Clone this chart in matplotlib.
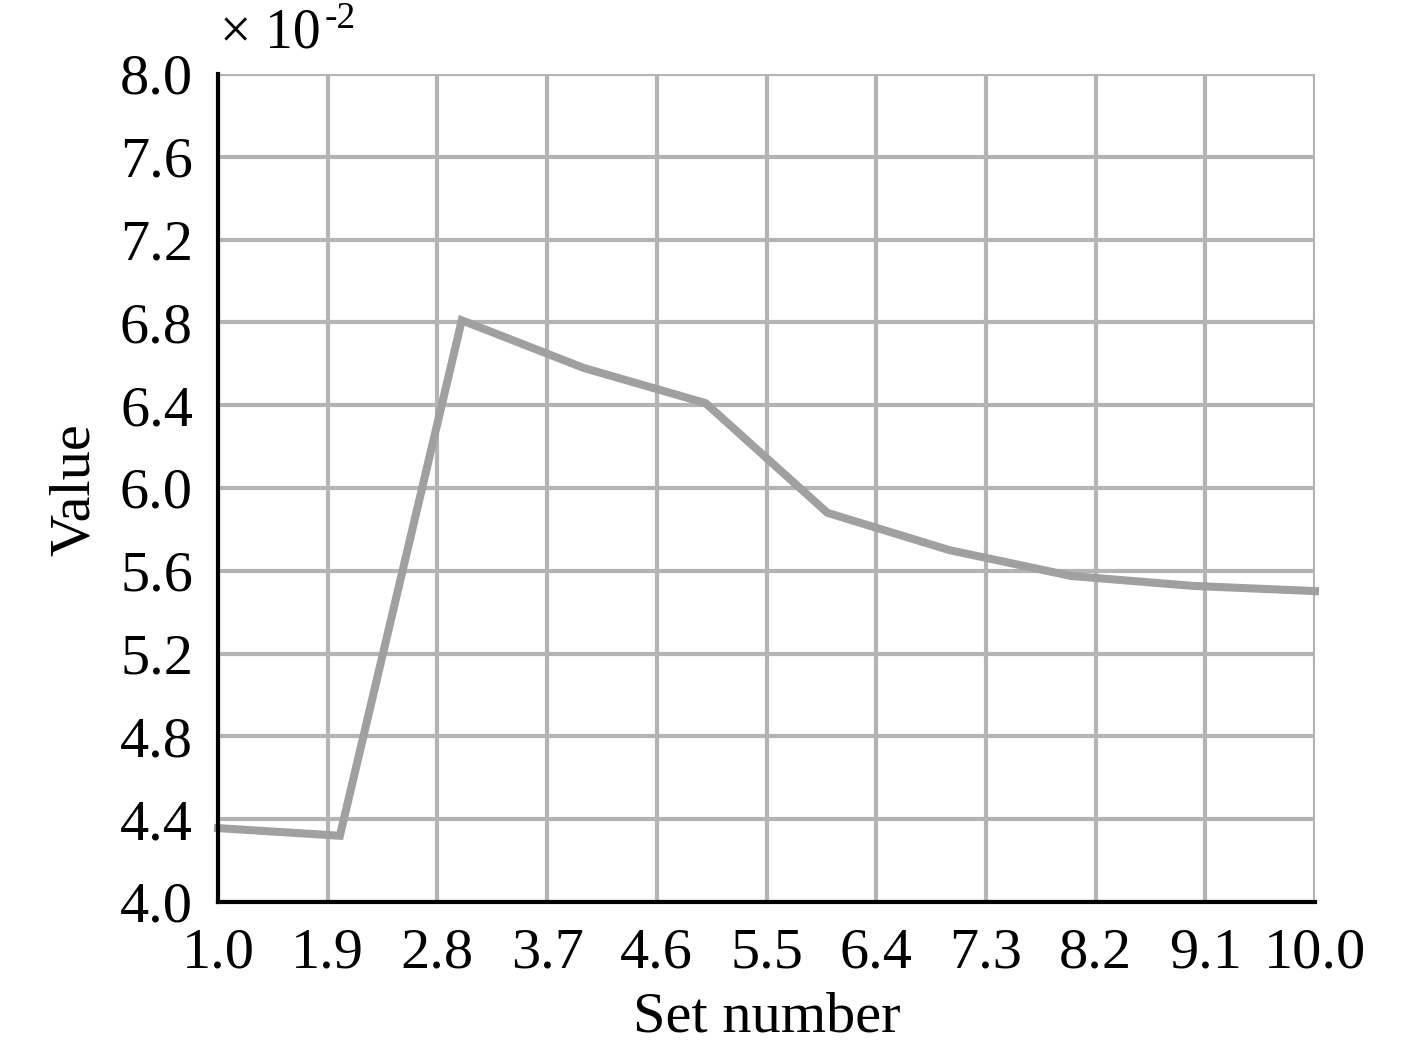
import matplotlib
matplotlib.use("Agg")
import matplotlib.pyplot as plt
import numpy as np

set_number = [1, 2, 3, 4, 5, 6, 7, 8, 9, 10]
value_e2 = [4.357, 4.32, 6.81, 6.58, 6.41, 5.88, 5.70, 5.575, 5.527, 5.502]
x_ticks = [1.0, 1.9, 2.8, 3.7, 4.6, 5.5, 6.4, 7.3, 8.2, 9.1, 10.0]
y_ticks = [4.0, 4.4, 4.8, 5.2, 5.6, 6.0, 6.4, 6.8, 7.2, 7.6, 8.0]

plt.rcParams['font.family'] = ['Liberation Serif', 'DejaVu Serif']

W, H = 1417, 1046
fig = plt.figure(figsize=(W/100, H/100), dpi=100)
ax = fig.add_axes([218/W, 1-902/H, (1315-218)/W, (902-74)/H])

ax.plot(set_number, value_e2, color='#a0a0a0', lw=5.8, solid_joinstyle='miter', zorder=3, clip_on=False)

ax.set_xlim(1.0, 10.0)
ax.set_ylim(4.0, 8.0)
ax.set_xticks(x_ticks)
ax.set_xticklabels([f"{t:.1f}" for t in x_ticks])
ax.set_yticks(y_ticks)
ax.set_yticklabels([f"{t:.1f}" for t in y_ticks])
ax.grid(True, color='#b4b4b4', lw=3, zorder=1)
ax.set_axisbelow(True)
ax.tick_params(axis='y', length=0, labelsize=42, pad=18)
ax.tick_params(axis='x', length=0, labelsize=42, pad=18)
for s in ['top', 'right']:
    ax.spines[s].set_visible(False)
for s in ['left', 'bottom']:
    ax.spines[s].set_linewidth(3)
    ax.spines[s].set_color('black')
    ax.spines[s].set_zorder(4)

ax.set_xlabel('Set number', fontsize=42)
ax.xaxis.set_label_coords(767/W, 1-1018/H, transform=fig.transFigure)
ax.xaxis.label.set_va('center')
ax.set_ylabel('Value', fontsize=42)
ax.yaxis.set_label_coords(75/W, 1-490/H, transform=fig.transFigure)
ax.yaxis.label.set_va('center')

t1 = fig.text(220/W, 1-48/H, '\u00d7 10', fontsize=40, va='baseline', ha='left')
fig.canvas.draw()
bb = t1.get_window_extent(renderer=fig.canvas.get_renderer())
fig.text((bb.x1 + 4)/W, 1-28/H, '-2', fontsize=27, va='baseline', ha='left')

fig.savefig('out.png', dpi=100)
